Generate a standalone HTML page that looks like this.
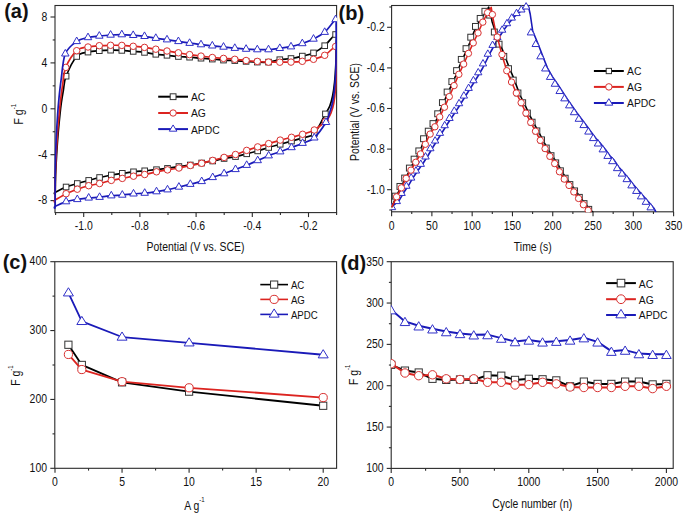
<!DOCTYPE html>
<html><head><meta charset="utf-8"><title>Figure</title>
<style>
html,body{margin:0;padding:0;background:#fff;}
body{width:685px;height:516px;overflow:hidden;}
svg{display:block;font-family:"Liberation Sans", sans-serif;}
text{fill:#111;}
</style></head><body>
<svg width="685" height="516" viewBox="0 0 685 516">
<defs><clipPath id="clipa"><rect x="40" y="0" width="296.9" height="240"/></clipPath><clipPath id="clipb"><rect x="391.1" y="0" width="290" height="212.3"/></clipPath><clipPath id="clipd"><rect x="391.0" y="255" width="290" height="213.9"/></clipPath></defs>
<rect width="685" height="516" fill="#fff"/>
<rect x="55" y="5.5" width="281.6" height="207.1" fill="none" stroke="#2a2a2a" stroke-width="1.1"/>
<line x1="50.5" y1="200.6" x2="55" y2="200.6" stroke="#2a2a2a" stroke-width="1.1"/>
<line x1="52.7" y1="177.65" x2="55" y2="177.65" stroke="#2a2a2a" stroke-width="1.1"/>
<line x1="50.5" y1="154.7" x2="55" y2="154.7" stroke="#2a2a2a" stroke-width="1.1"/>
<line x1="52.7" y1="131.75" x2="55" y2="131.75" stroke="#2a2a2a" stroke-width="1.1"/>
<line x1="50.5" y1="108.8" x2="55" y2="108.8" stroke="#2a2a2a" stroke-width="1.1"/>
<line x1="52.7" y1="85.85" x2="55" y2="85.85" stroke="#2a2a2a" stroke-width="1.1"/>
<line x1="50.5" y1="62.9" x2="55" y2="62.9" stroke="#2a2a2a" stroke-width="1.1"/>
<line x1="52.7" y1="39.95" x2="55" y2="39.95" stroke="#2a2a2a" stroke-width="1.1"/>
<line x1="50.5" y1="17" x2="55" y2="17" stroke="#2a2a2a" stroke-width="1.1"/>
<text transform="translate(47.2 204.4) scale(0.87 1)" font-size="12" text-anchor="end" font-weight="normal">-8</text>
<text transform="translate(47.2 158.5) scale(0.87 1)" font-size="12" text-anchor="end" font-weight="normal">-4</text>
<text transform="translate(47.2 112.6) scale(0.87 1)" font-size="12" text-anchor="end" font-weight="normal">0</text>
<text transform="translate(47.2 66.7) scale(0.87 1)" font-size="12" text-anchor="end" font-weight="normal">4</text>
<text transform="translate(47.2 20.8) scale(0.87 1)" font-size="12" text-anchor="end" font-weight="normal">8</text>
<line x1="55.6" y1="212.6" x2="55.6" y2="214.9" stroke="#2a2a2a" stroke-width="1.1"/>
<line x1="83.7" y1="212.6" x2="83.7" y2="217.1" stroke="#2a2a2a" stroke-width="1.1"/>
<line x1="111.8" y1="212.6" x2="111.8" y2="214.9" stroke="#2a2a2a" stroke-width="1.1"/>
<line x1="139.9" y1="212.6" x2="139.9" y2="217.1" stroke="#2a2a2a" stroke-width="1.1"/>
<line x1="168" y1="212.6" x2="168" y2="214.9" stroke="#2a2a2a" stroke-width="1.1"/>
<line x1="196.1" y1="212.6" x2="196.1" y2="217.1" stroke="#2a2a2a" stroke-width="1.1"/>
<line x1="224.2" y1="212.6" x2="224.2" y2="214.9" stroke="#2a2a2a" stroke-width="1.1"/>
<line x1="252.3" y1="212.6" x2="252.3" y2="217.1" stroke="#2a2a2a" stroke-width="1.1"/>
<line x1="280.4" y1="212.6" x2="280.4" y2="214.9" stroke="#2a2a2a" stroke-width="1.1"/>
<line x1="308.5" y1="212.6" x2="308.5" y2="217.1" stroke="#2a2a2a" stroke-width="1.1"/>
<line x1="336.6" y1="212.6" x2="336.6" y2="214.9" stroke="#2a2a2a" stroke-width="1.1"/>
<text transform="translate(83.7 229.5) scale(0.87 1)" font-size="12" text-anchor="middle" font-weight="normal">-1.0</text>
<text transform="translate(139.9 229.5) scale(0.87 1)" font-size="12" text-anchor="middle" font-weight="normal">-0.8</text>
<text transform="translate(196.1 229.5) scale(0.87 1)" font-size="12" text-anchor="middle" font-weight="normal">-0.6</text>
<text transform="translate(252.3 229.5) scale(0.87 1)" font-size="12" text-anchor="middle" font-weight="normal">-0.4</text>
<text transform="translate(308.5 229.5) scale(0.87 1)" font-size="12" text-anchor="middle" font-weight="normal">-0.2</text>
<text transform="translate(195.5 251.2) scale(0.87 1)" font-size="12" text-anchor="middle" font-weight="normal">Potential (V vs. SCE)</text>
<text transform="translate(23.3 124.4) rotate(-90) scale(0.87 1)" font-size="12">F g<tspan dy="-7.4" font-size="7">-1</tspan></text>
<g clip-path="url(#clipa)">
<path d="M55.2,192.3 C57.02,191.42 62.42,188.47 66.1,187 C69.78,185.53 73.53,184.6 77.3,183.5 C81.07,182.4 84.98,181.4 88.7,180.4 C92.42,179.4 95.83,178.4 99.6,177.5 C103.37,176.6 107.52,175.7 111.3,175 C115.08,174.3 118.6,173.83 122.3,173.3 C126,172.77 129.77,172.22 133.5,171.8 C137.23,171.38 140.87,171.15 144.7,170.8 C148.53,170.45 152.7,170.1 156.5,169.7 C160.3,169.3 163.77,168.93 167.5,168.4 C171.23,167.87 175.1,167.07 178.9,166.5 C182.7,165.93 186.5,165.58 190.3,165 C194.1,164.42 197.97,163.67 201.7,163 C205.43,162.33 208.97,161.75 212.7,161 C216.43,160.25 220.3,159.23 224.1,158.5 C227.9,157.77 231.73,157.38 235.5,156.6 C239.27,155.82 243,154.75 246.7,153.8 C250.4,152.85 254.03,151.95 257.7,150.9 C261.37,149.85 264.95,148.6 268.7,147.5 C272.45,146.4 276.4,145.37 280.2,144.3 C284,143.23 287.77,142.17 291.5,141.1 C295.23,140.03 298.8,139.17 302.6,137.9 C306.4,136.63 310.5,137.5 314.3,133.5 C318.1,129.5 322.82,118.48 325.4,113.9 C327.98,109.32 328.6,108.98 329.8,106 C331,103.02 331.8,100 332.6,96 C333.4,92 334.07,87.17 334.6,82 C335.13,76.83 335.53,71.17 335.8,65 C336.07,58.83 336.23,50.08 336.2,45 C336.17,39.92 337.52,34.38 335.6,34.5 C333.68,34.62 328.38,42.63 324.7,45.7 C321.02,48.77 317.23,51.17 313.5,52.9 C309.77,54.63 306.05,55.17 302.3,56.1 C298.55,57.03 294.75,57.9 291,58.5 C287.25,59.1 283.55,59.1 279.8,59.7 C276.05,60.3 272.25,61.7 268.5,62.1 C264.75,62.5 261.03,62.22 257.3,62.1 C253.57,61.98 249.85,61.65 246.1,61.4 C242.35,61.15 238.57,60.82 234.8,60.6 C231.03,60.38 227.25,60.35 223.5,60.1 C219.75,59.85 216.05,59.42 212.3,59.1 C208.55,58.78 204.78,58.52 201,58.2 C197.22,57.88 193.37,57.48 189.6,57.2 C185.83,56.92 182.17,56.82 178.4,56.5 C174.63,56.18 170.77,55.67 167,55.3 C163.23,54.93 159.55,54.78 155.8,54.3 C152.05,53.82 148.27,52.88 144.5,52.4 C140.73,51.92 136.98,51.73 133.2,51.4 C129.42,51.07 125.57,50.6 121.8,50.4 C118.03,50.2 114.35,50.15 110.6,50.2 C106.85,50.25 103.07,50.38 99.3,50.7 C95.53,51.02 91.77,51.13 88,52.1 C84.23,53.07 80.35,52.48 76.7,56.5 C73.05,60.52 68.32,70.62 66.1,76.2 C63.88,81.78 64.2,85.53 63.4,90 C62.6,94.47 61.88,98.83 61.3,103 C60.72,107.17 60.45,109.67 59.9,115 C59.35,120.33 58.55,128.33 58,135 C57.45,141.67 57,148.33 56.6,155 C56.2,161.67 55.83,168.78 55.6,175 C55.37,181.22 55.27,189.42 55.2,192.3 C55.13,195.18 53.38,193.18 55.2,192.3Z" fill="none" stroke="#000000" stroke-width="1.7" stroke-linejoin="round" stroke-linecap="round"/>
<rect x="63.3" y="184.2" width="5.6" height="5.6" fill="#fff" stroke="#333333" stroke-width="1"/>
<rect x="74.5" y="180.7" width="5.6" height="5.6" fill="#fff" stroke="#333333" stroke-width="1"/>
<rect x="85.9" y="177.6" width="5.6" height="5.6" fill="#fff" stroke="#333333" stroke-width="1"/>
<rect x="96.8" y="174.7" width="5.6" height="5.6" fill="#fff" stroke="#333333" stroke-width="1"/>
<rect x="108.5" y="172.2" width="5.6" height="5.6" fill="#fff" stroke="#333333" stroke-width="1"/>
<rect x="119.5" y="170.5" width="5.6" height="5.6" fill="#fff" stroke="#333333" stroke-width="1"/>
<rect x="130.7" y="169" width="5.6" height="5.6" fill="#fff" stroke="#333333" stroke-width="1"/>
<rect x="141.9" y="168" width="5.6" height="5.6" fill="#fff" stroke="#333333" stroke-width="1"/>
<rect x="153.7" y="166.9" width="5.6" height="5.6" fill="#fff" stroke="#333333" stroke-width="1"/>
<rect x="164.7" y="165.6" width="5.6" height="5.6" fill="#fff" stroke="#333333" stroke-width="1"/>
<rect x="176.1" y="163.7" width="5.6" height="5.6" fill="#fff" stroke="#333333" stroke-width="1"/>
<rect x="187.5" y="162.2" width="5.6" height="5.6" fill="#fff" stroke="#333333" stroke-width="1"/>
<rect x="198.9" y="160.2" width="5.6" height="5.6" fill="#fff" stroke="#333333" stroke-width="1"/>
<rect x="209.9" y="158.2" width="5.6" height="5.6" fill="#fff" stroke="#333333" stroke-width="1"/>
<rect x="221.3" y="155.7" width="5.6" height="5.6" fill="#fff" stroke="#333333" stroke-width="1"/>
<rect x="232.7" y="153.8" width="5.6" height="5.6" fill="#fff" stroke="#333333" stroke-width="1"/>
<rect x="243.9" y="151" width="5.6" height="5.6" fill="#fff" stroke="#333333" stroke-width="1"/>
<rect x="254.9" y="148.1" width="5.6" height="5.6" fill="#fff" stroke="#333333" stroke-width="1"/>
<rect x="265.9" y="144.7" width="5.6" height="5.6" fill="#fff" stroke="#333333" stroke-width="1"/>
<rect x="277.4" y="141.5" width="5.6" height="5.6" fill="#fff" stroke="#333333" stroke-width="1"/>
<rect x="288.7" y="138.3" width="5.6" height="5.6" fill="#fff" stroke="#333333" stroke-width="1"/>
<rect x="299.8" y="135.1" width="5.6" height="5.6" fill="#fff" stroke="#333333" stroke-width="1"/>
<rect x="311.5" y="130.7" width="5.6" height="5.6" fill="#fff" stroke="#333333" stroke-width="1"/>
<rect x="322.6" y="111.1" width="5.6" height="5.6" fill="#fff" stroke="#333333" stroke-width="1"/>
<rect x="63.3" y="73.4" width="5.6" height="5.6" fill="#fff" stroke="#333333" stroke-width="1"/>
<rect x="73.9" y="53.7" width="5.6" height="5.6" fill="#fff" stroke="#333333" stroke-width="1"/>
<rect x="85.2" y="49.3" width="5.6" height="5.6" fill="#fff" stroke="#333333" stroke-width="1"/>
<rect x="96.5" y="47.9" width="5.6" height="5.6" fill="#fff" stroke="#333333" stroke-width="1"/>
<rect x="107.8" y="47.4" width="5.6" height="5.6" fill="#fff" stroke="#333333" stroke-width="1"/>
<rect x="119" y="47.6" width="5.6" height="5.6" fill="#fff" stroke="#333333" stroke-width="1"/>
<rect x="130.4" y="48.6" width="5.6" height="5.6" fill="#fff" stroke="#333333" stroke-width="1"/>
<rect x="141.7" y="49.6" width="5.6" height="5.6" fill="#fff" stroke="#333333" stroke-width="1"/>
<rect x="153" y="51.5" width="5.6" height="5.6" fill="#fff" stroke="#333333" stroke-width="1"/>
<rect x="164.2" y="52.5" width="5.6" height="5.6" fill="#fff" stroke="#333333" stroke-width="1"/>
<rect x="175.6" y="53.7" width="5.6" height="5.6" fill="#fff" stroke="#333333" stroke-width="1"/>
<rect x="186.8" y="54.4" width="5.6" height="5.6" fill="#fff" stroke="#333333" stroke-width="1"/>
<rect x="198.2" y="55.4" width="5.6" height="5.6" fill="#fff" stroke="#333333" stroke-width="1"/>
<rect x="209.5" y="56.3" width="5.6" height="5.6" fill="#fff" stroke="#333333" stroke-width="1"/>
<rect x="220.7" y="57.3" width="5.6" height="5.6" fill="#fff" stroke="#333333" stroke-width="1"/>
<rect x="232" y="57.8" width="5.6" height="5.6" fill="#fff" stroke="#333333" stroke-width="1"/>
<rect x="243.3" y="58.6" width="5.6" height="5.6" fill="#fff" stroke="#333333" stroke-width="1"/>
<rect x="254.5" y="59.3" width="5.6" height="5.6" fill="#fff" stroke="#333333" stroke-width="1"/>
<rect x="265.7" y="59.3" width="5.6" height="5.6" fill="#fff" stroke="#333333" stroke-width="1"/>
<rect x="277" y="56.9" width="5.6" height="5.6" fill="#fff" stroke="#333333" stroke-width="1"/>
<rect x="288.2" y="55.7" width="5.6" height="5.6" fill="#fff" stroke="#333333" stroke-width="1"/>
<rect x="299.5" y="53.3" width="5.6" height="5.6" fill="#fff" stroke="#333333" stroke-width="1"/>
<rect x="310.7" y="50.1" width="5.6" height="5.6" fill="#fff" stroke="#333333" stroke-width="1"/>
<rect x="321.9" y="42.9" width="5.6" height="5.6" fill="#fff" stroke="#333333" stroke-width="1"/>
<rect x="332.8" y="31.7" width="5.6" height="5.6" fill="#fff" stroke="#333333" stroke-width="1"/>
<path d="M55.2,200.1 C57.02,199.03 62.42,195.52 66.1,193.7 C69.78,191.88 73.53,190.53 77.3,189.2 C81.07,187.87 84.98,186.65 88.7,185.7 C92.42,184.75 95.83,184.38 99.6,183.5 C103.37,182.62 107.52,181.25 111.3,180.4 C115.08,179.55 118.6,179.1 122.3,178.4 C126,177.7 129.77,176.85 133.5,176.2 C137.23,175.55 140.87,175.23 144.7,174.5 C148.53,173.77 152.7,172.57 156.5,171.8 C160.3,171.03 163.77,170.53 167.5,169.9 C171.23,169.27 175.1,168.73 178.9,168 C182.7,167.27 186.5,166.28 190.3,165.5 C194.1,164.72 197.97,164.15 201.7,163.3 C205.43,162.45 208.97,161.38 212.7,160.4 C216.43,159.42 220.3,158.38 224.1,157.4 C227.9,156.42 231.73,155.67 235.5,154.5 C239.27,153.33 243,151.67 246.7,150.4 C250.4,149.13 254.03,148.03 257.7,146.9 C261.37,145.77 264.95,144.73 268.7,143.6 C272.45,142.47 276.4,141.15 280.2,140.1 C284,139.05 287.77,138.27 291.5,137.3 C295.23,136.33 298.8,135.52 302.6,134.3 C306.4,133.08 310.48,132.13 314.3,130 C318.12,127.87 323.3,123.25 325.5,121.5 C327.7,119.75 326.58,120.92 327.5,119.5 C328.42,118.08 329.95,115.75 331,113 C332.05,110.25 333.07,106.83 333.8,103 C334.53,99.17 335,95.17 335.4,90 C335.8,84.83 336.05,77.83 336.2,72 C336.35,66.17 336.4,59.25 336.3,55 C336.2,50.75 337.53,46.45 335.6,46.5 C333.67,46.55 328.38,53.17 324.7,55.3 C321.02,57.43 317.23,58.3 313.5,59.3 C309.77,60.3 306.05,60.83 302.3,61.3 C298.55,61.77 294.75,61.95 291,62.1 C287.25,62.25 283.55,62.2 279.8,62.2 C276.05,62.2 272.25,62.23 268.5,62.1 C264.75,61.97 261.03,61.67 257.3,61.4 C253.57,61.13 249.85,60.85 246.1,60.5 C242.35,60.15 238.57,59.65 234.8,59.3 C231.03,58.95 227.25,58.7 223.5,58.4 C219.75,58.1 216.05,57.88 212.3,57.5 C208.55,57.12 204.78,56.58 201,56.1 C197.22,55.62 193.37,55.15 189.6,54.6 C185.83,54.05 182.17,53.4 178.4,52.8 C174.63,52.2 170.77,51.6 167,51 C163.23,50.4 159.55,49.8 155.8,49.2 C152.05,48.6 148.27,47.88 144.5,47.4 C140.73,46.92 136.98,46.63 133.2,46.3 C129.42,45.97 125.57,45.57 121.8,45.4 C118.03,45.23 114.35,45.25 110.6,45.3 C106.85,45.35 103.07,45.42 99.3,45.7 C95.53,45.98 91.77,46.17 88,47 C84.23,47.83 80.4,47.3 76.7,50.7 C73,54.1 68.15,61.68 65.8,67.4 C63.45,73.12 63.47,79.57 62.6,85 C61.73,90.43 61.18,95 60.6,100 C60.02,105 59.63,109.17 59.1,115 C58.57,120.83 57.88,128.33 57.4,135 C56.92,141.67 56.53,148.33 56.2,155 C55.87,161.67 55.57,167.48 55.4,175 C55.23,182.52 55.23,195.92 55.2,200.1 C55.17,204.28 53.38,201.17 55.2,200.1Z" fill="none" stroke="#dc2420" stroke-width="1.7" stroke-linejoin="round" stroke-linecap="round"/>
<circle cx="66.1" cy="193.7" r="3.25" fill="#fff" stroke="#d83030" stroke-width="1"/>
<circle cx="77.3" cy="189.2" r="3.25" fill="#fff" stroke="#d83030" stroke-width="1"/>
<circle cx="88.7" cy="185.7" r="3.25" fill="#fff" stroke="#d83030" stroke-width="1"/>
<circle cx="99.6" cy="183.5" r="3.25" fill="#fff" stroke="#d83030" stroke-width="1"/>
<circle cx="111.3" cy="180.4" r="3.25" fill="#fff" stroke="#d83030" stroke-width="1"/>
<circle cx="122.3" cy="178.4" r="3.25" fill="#fff" stroke="#d83030" stroke-width="1"/>
<circle cx="133.5" cy="176.2" r="3.25" fill="#fff" stroke="#d83030" stroke-width="1"/>
<circle cx="144.7" cy="174.5" r="3.25" fill="#fff" stroke="#d83030" stroke-width="1"/>
<circle cx="156.5" cy="171.8" r="3.25" fill="#fff" stroke="#d83030" stroke-width="1"/>
<circle cx="167.5" cy="169.9" r="3.25" fill="#fff" stroke="#d83030" stroke-width="1"/>
<circle cx="178.9" cy="168" r="3.25" fill="#fff" stroke="#d83030" stroke-width="1"/>
<circle cx="190.3" cy="165.5" r="3.25" fill="#fff" stroke="#d83030" stroke-width="1"/>
<circle cx="201.7" cy="163.3" r="3.25" fill="#fff" stroke="#d83030" stroke-width="1"/>
<circle cx="212.7" cy="160.4" r="3.25" fill="#fff" stroke="#d83030" stroke-width="1"/>
<circle cx="224.1" cy="157.4" r="3.25" fill="#fff" stroke="#d83030" stroke-width="1"/>
<circle cx="235.5" cy="154.5" r="3.25" fill="#fff" stroke="#d83030" stroke-width="1"/>
<circle cx="246.7" cy="150.4" r="3.25" fill="#fff" stroke="#d83030" stroke-width="1"/>
<circle cx="257.7" cy="146.9" r="3.25" fill="#fff" stroke="#d83030" stroke-width="1"/>
<circle cx="268.7" cy="143.6" r="3.25" fill="#fff" stroke="#d83030" stroke-width="1"/>
<circle cx="280.2" cy="140.1" r="3.25" fill="#fff" stroke="#d83030" stroke-width="1"/>
<circle cx="291.5" cy="137.3" r="3.25" fill="#fff" stroke="#d83030" stroke-width="1"/>
<circle cx="302.6" cy="134.3" r="3.25" fill="#fff" stroke="#d83030" stroke-width="1"/>
<circle cx="314.3" cy="130" r="3.25" fill="#fff" stroke="#d83030" stroke-width="1"/>
<circle cx="325.5" cy="121.5" r="3.25" fill="#fff" stroke="#d83030" stroke-width="1"/>
<circle cx="65.8" cy="67.4" r="3.25" fill="#fff" stroke="#d83030" stroke-width="1"/>
<circle cx="76.7" cy="50.7" r="3.25" fill="#fff" stroke="#d83030" stroke-width="1"/>
<circle cx="88" cy="47" r="3.25" fill="#fff" stroke="#d83030" stroke-width="1"/>
<circle cx="99.3" cy="45.7" r="3.25" fill="#fff" stroke="#d83030" stroke-width="1"/>
<circle cx="110.6" cy="45.3" r="3.25" fill="#fff" stroke="#d83030" stroke-width="1"/>
<circle cx="121.8" cy="45.4" r="3.25" fill="#fff" stroke="#d83030" stroke-width="1"/>
<circle cx="133.2" cy="46.3" r="3.25" fill="#fff" stroke="#d83030" stroke-width="1"/>
<circle cx="144.5" cy="47.4" r="3.25" fill="#fff" stroke="#d83030" stroke-width="1"/>
<circle cx="155.8" cy="49.2" r="3.25" fill="#fff" stroke="#d83030" stroke-width="1"/>
<circle cx="167" cy="51" r="3.25" fill="#fff" stroke="#d83030" stroke-width="1"/>
<circle cx="178.4" cy="52.8" r="3.25" fill="#fff" stroke="#d83030" stroke-width="1"/>
<circle cx="189.6" cy="54.6" r="3.25" fill="#fff" stroke="#d83030" stroke-width="1"/>
<circle cx="201" cy="56.1" r="3.25" fill="#fff" stroke="#d83030" stroke-width="1"/>
<circle cx="212.3" cy="57.5" r="3.25" fill="#fff" stroke="#d83030" stroke-width="1"/>
<circle cx="223.5" cy="58.4" r="3.25" fill="#fff" stroke="#d83030" stroke-width="1"/>
<circle cx="234.8" cy="59.3" r="3.25" fill="#fff" stroke="#d83030" stroke-width="1"/>
<circle cx="246.1" cy="60.5" r="3.25" fill="#fff" stroke="#d83030" stroke-width="1"/>
<circle cx="257.3" cy="61.4" r="3.25" fill="#fff" stroke="#d83030" stroke-width="1"/>
<circle cx="268.5" cy="62.1" r="3.25" fill="#fff" stroke="#d83030" stroke-width="1"/>
<circle cx="279.8" cy="62.2" r="3.25" fill="#fff" stroke="#d83030" stroke-width="1"/>
<circle cx="291" cy="62.1" r="3.25" fill="#fff" stroke="#d83030" stroke-width="1"/>
<circle cx="302.3" cy="61.3" r="3.25" fill="#fff" stroke="#d83030" stroke-width="1"/>
<circle cx="313.5" cy="59.3" r="3.25" fill="#fff" stroke="#d83030" stroke-width="1"/>
<circle cx="324.7" cy="55.3" r="3.25" fill="#fff" stroke="#d83030" stroke-width="1"/>
<circle cx="335.6" cy="46.5" r="3.25" fill="#fff" stroke="#d83030" stroke-width="1"/>
<path d="M55.2,206.4 C57.02,205.77 62.42,202.77 66.1,201.6 C69.78,200.43 73.53,200.02 77.3,199.4 C81.07,198.78 84.98,198.27 88.7,197.9 C92.42,197.53 95.83,197.57 99.6,197.2 C103.37,196.83 107.52,196.07 111.3,195.7 C115.08,195.33 118.6,195.32 122.3,195 C126,194.68 129.77,194.12 133.5,193.8 C137.23,193.48 140.87,193.47 144.7,193.1 C148.53,192.73 152.7,192.17 156.5,191.6 C160.3,191.03 163.77,190.47 167.5,189.7 C171.23,188.93 175.1,187.92 178.9,187 C182.7,186.08 186.5,185.13 190.3,184.2 C194.1,183.27 197.97,182.53 201.7,181.4 C205.43,180.27 208.97,178.7 212.7,177.4 C216.43,176.1 220.3,174.93 224.1,173.6 C227.9,172.27 231.73,170.8 235.5,169.4 C239.27,168 243,166.68 246.7,165.2 C250.4,163.72 254.03,162.08 257.7,160.5 C261.37,158.92 264.95,157.17 268.7,155.7 C272.45,154.23 276.4,153.07 280.2,151.7 C284,150.33 287.77,148.92 291.5,147.5 C295.23,146.08 298.8,144.82 302.6,143.2 C306.4,141.58 310.4,141.28 314.3,137.8 C318.2,134.32 323.47,126.43 326,122.3 C328.53,118.17 328.47,116.05 329.5,113 C330.53,109.95 331.42,107.5 332.2,104 C332.98,100.5 333.63,96.83 334.2,92 C334.77,87.17 335.27,82 335.6,75 C335.93,68 336.12,58.33 336.2,50 C336.28,41.67 336.2,30.08 336.1,25 C336,19.92 337.5,18.3 335.6,19.5 C333.7,20.7 328.38,28.95 324.7,32.2 C321.02,35.45 317.23,37.12 313.5,39 C309.77,40.88 306.05,42.22 302.3,43.5 C298.55,44.78 294.75,45.9 291,46.7 C287.25,47.5 283.55,47.82 279.8,48.3 C276.05,48.78 272.25,49.38 268.5,49.6 C264.75,49.82 261.03,49.68 257.3,49.6 C253.57,49.52 249.85,49.33 246.1,49.1 C242.35,48.87 238.57,48.55 234.8,48.2 C231.03,47.85 227.25,47.4 223.5,47 C219.75,46.6 216.05,46.2 212.3,45.8 C208.55,45.4 204.78,45.03 201,44.6 C197.22,44.17 193.37,43.73 189.6,43.2 C185.83,42.67 182.17,41.98 178.4,41.4 C174.63,40.82 170.77,40.23 167,39.7 C163.23,39.17 159.55,38.77 155.8,38.2 C152.05,37.63 148.27,36.78 144.5,36.3 C140.73,35.82 136.98,35.58 133.2,35.3 C129.42,35.02 125.57,34.65 121.8,34.6 C118.03,34.55 114.35,34.77 110.6,35 C106.85,35.23 103.07,35.58 99.3,36 C95.53,36.42 91.77,36.6 88,37.5 C84.23,38.4 80.48,38.68 76.7,41.4 C72.92,44.12 67.92,47.25 65.3,53.8 C62.68,60.35 62.08,73 61,80.7 C59.92,88.4 59.37,94.28 58.8,100 C58.23,105.72 58,109.17 57.6,115 C57.2,120.83 56.73,128.33 56.4,135 C56.07,141.67 55.8,148.33 55.6,155 C55.4,161.67 55.27,166.6 55.2,175 C55.13,183.4 55.2,200.17 55.2,205.4 C55.2,210.63 53.38,207.03 55.2,206.4Z" fill="none" stroke="#1a1ab8" stroke-width="1.7" stroke-linejoin="round" stroke-linecap="round"/>
<polygon points="66.1,197.2 69.85,203.8 62.35,203.8" fill="#fff" stroke="#3030c8" stroke-width="1" stroke-linejoin="miter"/>
<polygon points="77.3,195 81.05,201.6 73.55,201.6" fill="#fff" stroke="#3030c8" stroke-width="1" stroke-linejoin="miter"/>
<polygon points="88.7,193.5 92.45,200.1 84.95,200.1" fill="#fff" stroke="#3030c8" stroke-width="1" stroke-linejoin="miter"/>
<polygon points="99.6,192.8 103.35,199.4 95.85,199.4" fill="#fff" stroke="#3030c8" stroke-width="1" stroke-linejoin="miter"/>
<polygon points="111.3,191.3 115.05,197.9 107.55,197.9" fill="#fff" stroke="#3030c8" stroke-width="1" stroke-linejoin="miter"/>
<polygon points="122.3,190.6 126.05,197.2 118.55,197.2" fill="#fff" stroke="#3030c8" stroke-width="1" stroke-linejoin="miter"/>
<polygon points="133.5,189.4 137.25,196 129.75,196" fill="#fff" stroke="#3030c8" stroke-width="1" stroke-linejoin="miter"/>
<polygon points="144.7,188.7 148.45,195.3 140.95,195.3" fill="#fff" stroke="#3030c8" stroke-width="1" stroke-linejoin="miter"/>
<polygon points="156.5,187.2 160.25,193.8 152.75,193.8" fill="#fff" stroke="#3030c8" stroke-width="1" stroke-linejoin="miter"/>
<polygon points="167.5,185.3 171.25,191.9 163.75,191.9" fill="#fff" stroke="#3030c8" stroke-width="1" stroke-linejoin="miter"/>
<polygon points="178.9,182.6 182.65,189.2 175.15,189.2" fill="#fff" stroke="#3030c8" stroke-width="1" stroke-linejoin="miter"/>
<polygon points="190.3,179.8 194.05,186.4 186.55,186.4" fill="#fff" stroke="#3030c8" stroke-width="1" stroke-linejoin="miter"/>
<polygon points="201.7,177 205.45,183.6 197.95,183.6" fill="#fff" stroke="#3030c8" stroke-width="1" stroke-linejoin="miter"/>
<polygon points="212.7,173 216.45,179.6 208.95,179.6" fill="#fff" stroke="#3030c8" stroke-width="1" stroke-linejoin="miter"/>
<polygon points="224.1,169.2 227.85,175.8 220.35,175.8" fill="#fff" stroke="#3030c8" stroke-width="1" stroke-linejoin="miter"/>
<polygon points="235.5,165 239.25,171.6 231.75,171.6" fill="#fff" stroke="#3030c8" stroke-width="1" stroke-linejoin="miter"/>
<polygon points="246.7,160.8 250.45,167.4 242.95,167.4" fill="#fff" stroke="#3030c8" stroke-width="1" stroke-linejoin="miter"/>
<polygon points="257.7,156.1 261.45,162.7 253.95,162.7" fill="#fff" stroke="#3030c8" stroke-width="1" stroke-linejoin="miter"/>
<polygon points="268.7,151.3 272.45,157.9 264.95,157.9" fill="#fff" stroke="#3030c8" stroke-width="1" stroke-linejoin="miter"/>
<polygon points="280.2,147.3 283.95,153.9 276.45,153.9" fill="#fff" stroke="#3030c8" stroke-width="1" stroke-linejoin="miter"/>
<polygon points="291.5,143.1 295.25,149.7 287.75,149.7" fill="#fff" stroke="#3030c8" stroke-width="1" stroke-linejoin="miter"/>
<polygon points="302.6,138.8 306.35,145.4 298.85,145.4" fill="#fff" stroke="#3030c8" stroke-width="1" stroke-linejoin="miter"/>
<polygon points="314.3,133.4 318.05,140 310.55,140" fill="#fff" stroke="#3030c8" stroke-width="1" stroke-linejoin="miter"/>
<polygon points="326,117.9 329.75,124.5 322.25,124.5" fill="#fff" stroke="#3030c8" stroke-width="1" stroke-linejoin="miter"/>
<polygon points="65.3,49.4 69.05,56 61.55,56" fill="#fff" stroke="#3030c8" stroke-width="1" stroke-linejoin="miter"/>
<polygon points="76.7,37 80.45,43.6 72.95,43.6" fill="#fff" stroke="#3030c8" stroke-width="1" stroke-linejoin="miter"/>
<polygon points="88,33.1 91.75,39.7 84.25,39.7" fill="#fff" stroke="#3030c8" stroke-width="1" stroke-linejoin="miter"/>
<polygon points="99.3,31.6 103.05,38.2 95.55,38.2" fill="#fff" stroke="#3030c8" stroke-width="1" stroke-linejoin="miter"/>
<polygon points="110.6,30.6 114.35,37.2 106.85,37.2" fill="#fff" stroke="#3030c8" stroke-width="1" stroke-linejoin="miter"/>
<polygon points="121.8,30.2 125.55,36.8 118.05,36.8" fill="#fff" stroke="#3030c8" stroke-width="1" stroke-linejoin="miter"/>
<polygon points="133.2,30.9 136.95,37.5 129.45,37.5" fill="#fff" stroke="#3030c8" stroke-width="1" stroke-linejoin="miter"/>
<polygon points="144.5,31.9 148.25,38.5 140.75,38.5" fill="#fff" stroke="#3030c8" stroke-width="1" stroke-linejoin="miter"/>
<polygon points="155.8,33.8 159.55,40.4 152.05,40.4" fill="#fff" stroke="#3030c8" stroke-width="1" stroke-linejoin="miter"/>
<polygon points="167,35.3 170.75,41.9 163.25,41.9" fill="#fff" stroke="#3030c8" stroke-width="1" stroke-linejoin="miter"/>
<polygon points="178.4,37 182.15,43.6 174.65,43.6" fill="#fff" stroke="#3030c8" stroke-width="1" stroke-linejoin="miter"/>
<polygon points="189.6,38.8 193.35,45.4 185.85,45.4" fill="#fff" stroke="#3030c8" stroke-width="1" stroke-linejoin="miter"/>
<polygon points="201,40.2 204.75,46.8 197.25,46.8" fill="#fff" stroke="#3030c8" stroke-width="1" stroke-linejoin="miter"/>
<polygon points="212.3,41.4 216.05,48 208.55,48" fill="#fff" stroke="#3030c8" stroke-width="1" stroke-linejoin="miter"/>
<polygon points="223.5,42.6 227.25,49.2 219.75,49.2" fill="#fff" stroke="#3030c8" stroke-width="1" stroke-linejoin="miter"/>
<polygon points="234.8,43.8 238.55,50.4 231.05,50.4" fill="#fff" stroke="#3030c8" stroke-width="1" stroke-linejoin="miter"/>
<polygon points="246.1,44.7 249.85,51.3 242.35,51.3" fill="#fff" stroke="#3030c8" stroke-width="1" stroke-linejoin="miter"/>
<polygon points="257.3,45.2 261.05,51.8 253.55,51.8" fill="#fff" stroke="#3030c8" stroke-width="1" stroke-linejoin="miter"/>
<polygon points="268.5,45.2 272.25,51.8 264.75,51.8" fill="#fff" stroke="#3030c8" stroke-width="1" stroke-linejoin="miter"/>
<polygon points="279.8,43.9 283.55,50.5 276.05,50.5" fill="#fff" stroke="#3030c8" stroke-width="1" stroke-linejoin="miter"/>
<polygon points="291,42.3 294.75,48.9 287.25,48.9" fill="#fff" stroke="#3030c8" stroke-width="1" stroke-linejoin="miter"/>
<polygon points="302.3,39.1 306.05,45.7 298.55,45.7" fill="#fff" stroke="#3030c8" stroke-width="1" stroke-linejoin="miter"/>
<polygon points="313.5,34.6 317.25,41.2 309.75,41.2" fill="#fff" stroke="#3030c8" stroke-width="1" stroke-linejoin="miter"/>
<polygon points="324.7,27.8 328.45,34.4 320.95,34.4" fill="#fff" stroke="#3030c8" stroke-width="1" stroke-linejoin="miter"/>
<polygon points="335.6,15.1 339.35,21.7 331.85,21.7" fill="#fff" stroke="#3030c8" stroke-width="1" stroke-linejoin="miter"/>
</g>
<polyline points="158.2,96.7 188,96.7" fill="none" stroke="#000000" stroke-width="2.0" stroke-linejoin="round" stroke-linecap="butt"/>
<rect x="170.2" y="93.8" width="5.8" height="5.8" fill="#fff" stroke="#333333" stroke-width="1"/>
<text transform="translate(190.9 101.1) scale(0.9 1)" font-size="11.5" text-anchor="start" font-weight="normal">AC</text>
<polyline points="158.2,113 188,113" fill="none" stroke="#dc2420" stroke-width="2.0" stroke-linejoin="round" stroke-linecap="butt"/>
<circle cx="173.1" cy="113" r="3.2" fill="#fff" stroke="#d83030" stroke-width="1"/>
<text transform="translate(190.9 117.4) scale(0.9 1)" font-size="11.5" text-anchor="start" font-weight="normal">AG</text>
<polyline points="158.2,129.1 188,129.1" fill="none" stroke="#1a1ab8" stroke-width="2.0" stroke-linejoin="round" stroke-linecap="butt"/>
<polygon points="173.1,124.95 176.9,131.18 169.3,131.18" fill="#fff" stroke="#3030c8" stroke-width="1" stroke-linejoin="miter"/>
<text transform="translate(190.9 133.5) scale(0.9 1)" font-size="11.5" text-anchor="start" font-weight="normal">APDC</text>
<text transform="translate(4.2 17.8)" font-size="20" text-anchor="start" font-weight="bold">(a)</text>
<rect x="391.6" y="5.5" width="281.7" height="206.3" fill="none" stroke="#2a2a2a" stroke-width="1.1"/>
<line x1="389.3" y1="7" x2="391.6" y2="7" stroke="#2a2a2a" stroke-width="1.1"/>
<line x1="387.1" y1="27.3" x2="391.6" y2="27.3" stroke="#2a2a2a" stroke-width="1.1"/>
<line x1="389.3" y1="47.6" x2="391.6" y2="47.6" stroke="#2a2a2a" stroke-width="1.1"/>
<line x1="387.1" y1="67.9" x2="391.6" y2="67.9" stroke="#2a2a2a" stroke-width="1.1"/>
<line x1="389.3" y1="88.2" x2="391.6" y2="88.2" stroke="#2a2a2a" stroke-width="1.1"/>
<line x1="387.1" y1="108.5" x2="391.6" y2="108.5" stroke="#2a2a2a" stroke-width="1.1"/>
<line x1="389.3" y1="128.8" x2="391.6" y2="128.8" stroke="#2a2a2a" stroke-width="1.1"/>
<line x1="387.1" y1="149.1" x2="391.6" y2="149.1" stroke="#2a2a2a" stroke-width="1.1"/>
<line x1="389.3" y1="169.4" x2="391.6" y2="169.4" stroke="#2a2a2a" stroke-width="1.1"/>
<line x1="387.1" y1="189.7" x2="391.6" y2="189.7" stroke="#2a2a2a" stroke-width="1.1"/>
<line x1="389.3" y1="210" x2="391.6" y2="210" stroke="#2a2a2a" stroke-width="1.1"/>
<text transform="translate(384.8 31.1) scale(0.87 1)" font-size="12" text-anchor="end" font-weight="normal">-0.2</text>
<text transform="translate(384.8 71.7) scale(0.87 1)" font-size="12" text-anchor="end" font-weight="normal">-0.4</text>
<text transform="translate(384.8 112.3) scale(0.87 1)" font-size="12" text-anchor="end" font-weight="normal">-0.6</text>
<text transform="translate(384.8 152.9) scale(0.87 1)" font-size="12" text-anchor="end" font-weight="normal">-0.8</text>
<text transform="translate(384.8 193.5) scale(0.87 1)" font-size="12" text-anchor="end" font-weight="normal">-1.0</text>
<line x1="391.6" y1="211.8" x2="391.6" y2="216.3" stroke="#2a2a2a" stroke-width="1.1"/>
<line x1="411.74" y1="211.8" x2="411.74" y2="214.1" stroke="#2a2a2a" stroke-width="1.1"/>
<line x1="431.88" y1="211.8" x2="431.88" y2="216.3" stroke="#2a2a2a" stroke-width="1.1"/>
<line x1="452.03" y1="211.8" x2="452.03" y2="214.1" stroke="#2a2a2a" stroke-width="1.1"/>
<line x1="472.17" y1="211.8" x2="472.17" y2="216.3" stroke="#2a2a2a" stroke-width="1.1"/>
<line x1="492.31" y1="211.8" x2="492.31" y2="214.1" stroke="#2a2a2a" stroke-width="1.1"/>
<line x1="512.46" y1="211.8" x2="512.46" y2="216.3" stroke="#2a2a2a" stroke-width="1.1"/>
<line x1="532.6" y1="211.8" x2="532.6" y2="214.1" stroke="#2a2a2a" stroke-width="1.1"/>
<line x1="552.74" y1="211.8" x2="552.74" y2="216.3" stroke="#2a2a2a" stroke-width="1.1"/>
<line x1="572.88" y1="211.8" x2="572.88" y2="214.1" stroke="#2a2a2a" stroke-width="1.1"/>
<line x1="593.02" y1="211.8" x2="593.02" y2="216.3" stroke="#2a2a2a" stroke-width="1.1"/>
<line x1="613.17" y1="211.8" x2="613.17" y2="214.1" stroke="#2a2a2a" stroke-width="1.1"/>
<line x1="633.31" y1="211.8" x2="633.31" y2="216.3" stroke="#2a2a2a" stroke-width="1.1"/>
<line x1="653.45" y1="211.8" x2="653.45" y2="214.1" stroke="#2a2a2a" stroke-width="1.1"/>
<line x1="673.6" y1="211.8" x2="673.6" y2="216.3" stroke="#2a2a2a" stroke-width="1.1"/>
<text transform="translate(391.6 229.5) scale(0.87 1)" font-size="12" text-anchor="middle" font-weight="normal">0</text>
<text transform="translate(431.88 229.5) scale(0.87 1)" font-size="12" text-anchor="middle" font-weight="normal">50</text>
<text transform="translate(472.17 229.5) scale(0.87 1)" font-size="12" text-anchor="middle" font-weight="normal">100</text>
<text transform="translate(512.46 229.5) scale(0.87 1)" font-size="12" text-anchor="middle" font-weight="normal">150</text>
<text transform="translate(552.74 229.5) scale(0.87 1)" font-size="12" text-anchor="middle" font-weight="normal">200</text>
<text transform="translate(593.02 229.5) scale(0.87 1)" font-size="12" text-anchor="middle" font-weight="normal">250</text>
<text transform="translate(633.31 229.5) scale(0.87 1)" font-size="12" text-anchor="middle" font-weight="normal">300</text>
<text transform="translate(673.6 229.5) scale(0.87 1)" font-size="12" text-anchor="middle" font-weight="normal">350</text>
<text transform="translate(532.8 251.2) scale(0.87 1)" font-size="12" text-anchor="middle" font-weight="normal">Time (s)</text>
<text transform="translate(358.9 112) rotate(-90) scale(0.87 1)" font-size="12" text-anchor="middle" font-weight="normal">Potential (V vs. SCE)</text>
<g clip-path="url(#clipb)">
<polyline points="392,206.7 399.2,200.4 403.6,192.8 408.6,185.3 413,177.7 418.1,170.2 423.1,163.2 428.1,155.5 432.7,147.5 437.7,139.5 442.7,131.5 447.7,123.5 452.7,116 457.7,108.5 462.7,100.5 467.7,92.5 472.7,84.5 477.7,76.5 482.7,68 486.7,60 490.9,51.5 495.6,43 500.2,35.5 504.9,28.5 509.6,22.2 514.2,16.9 518.9,12.5 523.6,9 528.3,6 530.2,14 532.7,31 538.4,44.8 543.3,57.5 547.5,68.1 552.4,76.7 557.6,84.1 562.5,91.6 567.4,99.1 572.1,105.9 577,112.9 581.7,119.3 586.6,125.7 591.3,132.1 596,138.5 600.9,143.9 605.4,149.5 609.9,155.7 614.3,160.4 618.7,167 623.8,172.8 628.9,178.7 633.3,184.5 638.4,190.4 643.5,196.2 648.6,202 653.7,207.9 655.7,211.5" fill="none" stroke="#1a1ab8" stroke-width="1.6" stroke-linejoin="round" stroke-linecap="round"/>
<polygon points="392,203.23 395.7,209.63 388.3,209.63" fill="#fff" stroke="#3030c8" stroke-width="1" stroke-linejoin="miter"/>
<polygon points="396.79,197.2 400.49,203.6 393.09,203.6" fill="#fff" stroke="#3030c8" stroke-width="1" stroke-linejoin="miter"/>
<polygon points="401.58,189.06 405.28,195.46 397.88,195.46" fill="#fff" stroke="#3030c8" stroke-width="1" stroke-linejoin="miter"/>
<polygon points="406.37,181.88 410.07,188.28 402.67,188.28" fill="#fff" stroke="#3030c8" stroke-width="1" stroke-linejoin="miter"/>
<polygon points="411.16,173.7 414.86,180.1 407.46,180.1" fill="#fff" stroke="#3030c8" stroke-width="1" stroke-linejoin="miter"/>
<polygon points="415.95,166.66 419.65,173.06 412.25,173.06" fill="#fff" stroke="#3030c8" stroke-width="1" stroke-linejoin="miter"/>
<polygon points="420.74,159.96 424.44,166.36 417.04,166.36" fill="#fff" stroke="#3030c8" stroke-width="1" stroke-linejoin="miter"/>
<polygon points="425.53,152.6 429.23,159 421.83,159" fill="#fff" stroke="#3030c8" stroke-width="1" stroke-linejoin="miter"/>
<polygon points="430.32,144.35 434.02,150.75 426.62,150.75" fill="#fff" stroke="#3030c8" stroke-width="1" stroke-linejoin="miter"/>
<polygon points="435.11,136.66 438.81,143.06 431.41,143.06" fill="#fff" stroke="#3030c8" stroke-width="1" stroke-linejoin="miter"/>
<polygon points="439.9,128.99 443.6,135.39 436.2,135.39" fill="#fff" stroke="#3030c8" stroke-width="1" stroke-linejoin="miter"/>
<polygon points="444.69,121.33 448.39,127.73 440.99,127.73" fill="#fff" stroke="#3030c8" stroke-width="1" stroke-linejoin="miter"/>
<polygon points="449.48,114.06 453.18,120.46 445.78,120.46" fill="#fff" stroke="#3030c8" stroke-width="1" stroke-linejoin="miter"/>
<polygon points="454.27,106.88 457.97,113.28 450.57,113.28" fill="#fff" stroke="#3030c8" stroke-width="1" stroke-linejoin="miter"/>
<polygon points="459.06,99.34 462.76,105.74 455.36,105.74" fill="#fff" stroke="#3030c8" stroke-width="1" stroke-linejoin="miter"/>
<polygon points="463.85,91.67 467.55,98.07 460.15,98.07" fill="#fff" stroke="#3030c8" stroke-width="1" stroke-linejoin="miter"/>
<polygon points="468.64,84.01 472.34,90.41 464.94,90.41" fill="#fff" stroke="#3030c8" stroke-width="1" stroke-linejoin="miter"/>
<polygon points="473.43,76.35 477.13,82.75 469.73,82.75" fill="#fff" stroke="#3030c8" stroke-width="1" stroke-linejoin="miter"/>
<polygon points="478.22,68.41 481.92,74.81 474.52,74.81" fill="#fff" stroke="#3030c8" stroke-width="1" stroke-linejoin="miter"/>
<polygon points="483.01,59.51 486.71,65.91 479.31,65.91" fill="#fff" stroke="#3030c8" stroke-width="1" stroke-linejoin="miter"/>
<polygon points="487.8,49.85 491.5,56.25 484.1,56.25" fill="#fff" stroke="#3030c8" stroke-width="1" stroke-linejoin="miter"/>
<polygon points="492.59,41 496.29,47.4 488.89,47.4" fill="#fff" stroke="#3030c8" stroke-width="1" stroke-linejoin="miter"/>
<polygon points="497.38,33.04 501.08,39.44 493.68,39.44" fill="#fff" stroke="#3030c8" stroke-width="1" stroke-linejoin="miter"/>
<polygon points="502.17,25.82 505.87,32.22 498.47,32.22" fill="#fff" stroke="#3030c8" stroke-width="1" stroke-linejoin="miter"/>
<polygon points="506.96,19.32 510.66,25.72 503.26,25.72" fill="#fff" stroke="#3030c8" stroke-width="1" stroke-linejoin="miter"/>
<polygon points="511.75,13.72 515.45,20.12 508.05,20.12" fill="#fff" stroke="#3030c8" stroke-width="1" stroke-linejoin="miter"/>
<polygon points="516.54,9.18 520.24,15.58 512.84,15.58" fill="#fff" stroke="#3030c8" stroke-width="1" stroke-linejoin="miter"/>
<polygon points="521.33,5.59 525.03,11.99 517.63,11.99" fill="#fff" stroke="#3030c8" stroke-width="1" stroke-linejoin="miter"/>
<polygon points="526.12,2.62 529.82,9.02 522.42,9.02" fill="#fff" stroke="#3030c8" stroke-width="1" stroke-linejoin="miter"/>
<polygon points="530.91,28.53 534.61,34.93 527.21,34.93" fill="#fff" stroke="#3030c8" stroke-width="1" stroke-linejoin="miter"/>
<polygon points="535.7,40.12 539.4,46.52 532,46.52" fill="#fff" stroke="#3030c8" stroke-width="1" stroke-linejoin="miter"/>
<polygon points="540.49,52.45 544.19,58.85 536.79,58.85" fill="#fff" stroke="#3030c8" stroke-width="1" stroke-linejoin="miter"/>
<polygon points="545.28,64.58 548.98,70.98 541.58,70.98" fill="#fff" stroke="#3030c8" stroke-width="1" stroke-linejoin="miter"/>
<polygon points="550.07,73.01 553.77,79.41 546.37,79.41" fill="#fff" stroke="#3030c8" stroke-width="1" stroke-linejoin="miter"/>
<polygon points="554.86,79.86 558.56,86.26 551.16,86.26" fill="#fff" stroke="#3030c8" stroke-width="1" stroke-linejoin="miter"/>
<polygon points="559.65,87.14 563.35,93.54 555.95,93.54" fill="#fff" stroke="#3030c8" stroke-width="1" stroke-linejoin="miter"/>
<polygon points="564.44,94.47 568.14,100.87 560.74,100.87" fill="#fff" stroke="#3030c8" stroke-width="1" stroke-linejoin="miter"/>
<polygon points="569.23,101.46 572.93,107.86 565.53,107.86" fill="#fff" stroke="#3030c8" stroke-width="1" stroke-linejoin="miter"/>
<polygon points="574.02,108.32 577.72,114.72 570.32,114.72" fill="#fff" stroke="#3030c8" stroke-width="1" stroke-linejoin="miter"/>
<polygon points="578.81,114.89 582.51,121.29 575.11,121.29" fill="#fff" stroke="#3030c8" stroke-width="1" stroke-linejoin="miter"/>
<polygon points="583.6,121.19 587.3,127.59 579.9,127.59" fill="#fff" stroke="#3030c8" stroke-width="1" stroke-linejoin="miter"/>
<polygon points="588.39,127.67 592.09,134.07 584.69,134.07" fill="#fff" stroke="#3030c8" stroke-width="1" stroke-linejoin="miter"/>
<polygon points="593.18,134.19 596.88,140.59 589.48,140.59" fill="#fff" stroke="#3030c8" stroke-width="1" stroke-linejoin="miter"/>
<polygon points="597.97,139.63 601.67,146.03 594.27,146.03" fill="#fff" stroke="#3030c8" stroke-width="1" stroke-linejoin="miter"/>
<polygon points="602.76,145.49 606.46,151.89 599.06,151.89" fill="#fff" stroke="#3030c8" stroke-width="1" stroke-linejoin="miter"/>
<polygon points="607.55,152.03 611.25,158.43 603.85,158.43" fill="#fff" stroke="#3030c8" stroke-width="1" stroke-linejoin="miter"/>
<polygon points="612.34,157.29 616.04,163.69 608.64,163.69" fill="#fff" stroke="#3030c8" stroke-width="1" stroke-linejoin="miter"/>
<polygon points="617.13,164.25 620.83,170.65 613.43,170.65" fill="#fff" stroke="#3030c8" stroke-width="1" stroke-linejoin="miter"/>
<polygon points="621.92,169.7 625.62,176.1 618.22,176.1" fill="#fff" stroke="#3030c8" stroke-width="1" stroke-linejoin="miter"/>
<polygon points="626.71,175.25 630.41,181.65 623.01,181.65" fill="#fff" stroke="#3030c8" stroke-width="1" stroke-linejoin="miter"/>
<polygon points="631.5,181.5 635.2,187.9 627.8,187.9" fill="#fff" stroke="#3030c8" stroke-width="1" stroke-linejoin="miter"/>
<polygon points="636.29,187.04 639.99,193.44 632.59,193.44" fill="#fff" stroke="#3030c8" stroke-width="1" stroke-linejoin="miter"/>
<polygon points="641.08,192.48 644.78,198.88 637.38,198.88" fill="#fff" stroke="#3030c8" stroke-width="1" stroke-linejoin="miter"/>
<polygon points="645.87,197.93 649.57,204.33 642.17,204.33" fill="#fff" stroke="#3030c8" stroke-width="1" stroke-linejoin="miter"/>
<polygon points="650.66,203.46 654.36,209.86 646.96,209.86" fill="#fff" stroke="#3030c8" stroke-width="1" stroke-linejoin="miter"/>
<polyline points="392,206.7 396.2,196.6 401.1,186.5 406.4,177.1 410.8,167.6 415.8,158.2 420.2,150.6 424.7,138.8 430.5,129.5 436.3,120.2 441,108.6 445.6,98.1 450.3,87.7 455.6,76 460.3,64.4 465.4,52.8 470,42.3 474.1,31.5 478.8,22.2 484,14.6 488.7,7.2 490.2,12 492.2,22 496.2,34 500.2,44 504.2,54.3 509.2,67.5 513.8,78.4 519.7,94.5 525,105 529.1,114.2 534.2,123.9 539.5,133.6 543.9,142.1 548.7,150.1 553.5,157.8 558.4,165.1 563.2,173.6 568.1,180.8 572.9,186.9 577.8,193.7 582.6,200.2 586.7,205.5 590.4,209.9 592.7,212" fill="none" stroke="#000000" stroke-width="1.6" stroke-linejoin="round" stroke-linecap="round"/>
<rect x="392.27" y="193.2" width="5.9" height="5.9" fill="#fff" stroke="#333333" stroke-width="1"/>
<rect x="396.99" y="183.48" width="5.9" height="5.9" fill="#fff" stroke="#333333" stroke-width="1"/>
<rect x="401.71" y="175.11" width="5.9" height="5.9" fill="#fff" stroke="#333333" stroke-width="1"/>
<rect x="406.43" y="165.13" width="5.9" height="5.9" fill="#fff" stroke="#333333" stroke-width="1"/>
<rect x="411.15" y="156.19" width="5.9" height="5.9" fill="#fff" stroke="#333333" stroke-width="1"/>
<rect x="415.87" y="147.96" width="5.9" height="5.9" fill="#fff" stroke="#333333" stroke-width="1"/>
<rect x="420.59" y="135.79" width="5.9" height="5.9" fill="#fff" stroke="#333333" stroke-width="1"/>
<rect x="425.31" y="128.22" width="5.9" height="5.9" fill="#fff" stroke="#333333" stroke-width="1"/>
<rect x="430.03" y="120.65" width="5.9" height="5.9" fill="#fff" stroke="#333333" stroke-width="1"/>
<rect x="434.75" y="110.83" width="5.9" height="5.9" fill="#fff" stroke="#333333" stroke-width="1"/>
<rect x="439.47" y="99.67" width="5.9" height="5.9" fill="#fff" stroke="#333333" stroke-width="1"/>
<rect x="444.19" y="89.09" width="5.9" height="5.9" fill="#fff" stroke="#333333" stroke-width="1"/>
<rect x="448.91" y="78.66" width="5.9" height="5.9" fill="#fff" stroke="#333333" stroke-width="1"/>
<rect x="453.63" y="67.67" width="5.9" height="5.9" fill="#fff" stroke="#333333" stroke-width="1"/>
<rect x="458.35" y="56.45" width="5.9" height="5.9" fill="#fff" stroke="#333333" stroke-width="1"/>
<rect x="463.07" y="45.7" width="5.9" height="5.9" fill="#fff" stroke="#333333" stroke-width="1"/>
<rect x="467.79" y="34.24" width="5.9" height="5.9" fill="#fff" stroke="#333333" stroke-width="1"/>
<rect x="472.51" y="23.48" width="5.9" height="5.9" fill="#fff" stroke="#333333" stroke-width="1"/>
<rect x="477.23" y="15.48" width="5.9" height="5.9" fill="#fff" stroke="#333333" stroke-width="1"/>
<rect x="481.95" y="8.34" width="5.9" height="5.9" fill="#fff" stroke="#333333" stroke-width="1"/>
<rect x="486.67" y="12.15" width="5.9" height="5.9" fill="#fff" stroke="#333333" stroke-width="1"/>
<rect x="491.39" y="29.07" width="5.9" height="5.9" fill="#fff" stroke="#333333" stroke-width="1"/>
<rect x="496.11" y="41.2" width="5.9" height="5.9" fill="#fff" stroke="#333333" stroke-width="1"/>
<rect x="500.83" y="53.41" width="5.9" height="5.9" fill="#fff" stroke="#333333" stroke-width="1"/>
<rect x="505.55" y="65.73" width="5.9" height="5.9" fill="#fff" stroke="#333333" stroke-width="1"/>
<rect x="510.27" y="77.14" width="5.9" height="5.9" fill="#fff" stroke="#333333" stroke-width="1"/>
<rect x="514.99" y="90.02" width="5.9" height="5.9" fill="#fff" stroke="#333333" stroke-width="1"/>
<rect x="519.71" y="99.79" width="5.9" height="5.9" fill="#fff" stroke="#333333" stroke-width="1"/>
<rect x="524.43" y="110.08" width="5.9" height="5.9" fill="#fff" stroke="#333333" stroke-width="1"/>
<rect x="529.15" y="119.24" width="5.9" height="5.9" fill="#fff" stroke="#333333" stroke-width="1"/>
<rect x="533.87" y="127.94" width="5.9" height="5.9" fill="#fff" stroke="#333333" stroke-width="1"/>
<rect x="538.59" y="136.91" width="5.9" height="5.9" fill="#fff" stroke="#333333" stroke-width="1"/>
<rect x="543.31" y="145.08" width="5.9" height="5.9" fill="#fff" stroke="#333333" stroke-width="1"/>
<rect x="548.03" y="152.73" width="5.9" height="5.9" fill="#fff" stroke="#333333" stroke-width="1"/>
<rect x="552.75" y="159.92" width="5.9" height="5.9" fill="#fff" stroke="#333333" stroke-width="1"/>
<rect x="557.47" y="167.85" width="5.9" height="5.9" fill="#fff" stroke="#333333" stroke-width="1"/>
<rect x="562.19" y="175.26" width="5.9" height="5.9" fill="#fff" stroke="#333333" stroke-width="1"/>
<rect x="566.91" y="181.61" width="5.9" height="5.9" fill="#fff" stroke="#333333" stroke-width="1"/>
<rect x="571.63" y="187.95" width="5.9" height="5.9" fill="#fff" stroke="#333333" stroke-width="1"/>
<rect x="576.35" y="194.41" width="5.9" height="5.9" fill="#fff" stroke="#333333" stroke-width="1"/>
<rect x="581.07" y="200.64" width="5.9" height="5.9" fill="#fff" stroke="#333333" stroke-width="1"/>
<rect x="585.79" y="206.4" width="5.9" height="5.9" fill="#fff" stroke="#333333" stroke-width="1"/>
<polyline points="392,206.7 396.5,197 401.4,187.8 405.8,179 410.2,171.4 415.2,163.2 420.3,154.4 425,145 429.3,135.3 434.7,127.2 439.8,116.7 444.4,107.4 449.1,97 453.7,86.5 458.4,75.3 463.5,64.4 468.4,53.5 473.5,42.3 478,33 483.1,21.5 488.1,11.6 491.2,7.4 493.1,18.8 495.9,32.6 498.2,40.6 502.7,57.2 507,71.5 512.1,83.3 517,94.5 522.3,105 526.4,114.2 531.5,123.9 536.8,133.6 541.2,142.1 546,150.1 550.8,157.8 555.7,165.1 560.5,173.6 565.4,180.8 570.2,186.9 575.1,193.7 579.9,200.2 584,205.5 587.7,209.9 590,212" fill="none" stroke="#dc2420" stroke-width="1.6" stroke-linejoin="round" stroke-linecap="round"/>
<circle cx="396.59" cy="196.83" r="3.2" fill="#fff" stroke="#d83030" stroke-width="1"/>
<circle cx="401.38" cy="187.84" r="3.2" fill="#fff" stroke="#d83030" stroke-width="1"/>
<circle cx="406.17" cy="178.36" r="3.2" fill="#fff" stroke="#d83030" stroke-width="1"/>
<circle cx="410.96" cy="170.15" r="3.2" fill="#fff" stroke="#d83030" stroke-width="1"/>
<circle cx="415.75" cy="162.25" r="3.2" fill="#fff" stroke="#d83030" stroke-width="1"/>
<circle cx="420.54" cy="153.92" r="3.2" fill="#fff" stroke="#d83030" stroke-width="1"/>
<circle cx="425.33" cy="144.26" r="3.2" fill="#fff" stroke="#d83030" stroke-width="1"/>
<circle cx="430.12" cy="134.07" r="3.2" fill="#fff" stroke="#d83030" stroke-width="1"/>
<circle cx="434.91" cy="126.77" r="3.2" fill="#fff" stroke="#d83030" stroke-width="1"/>
<circle cx="439.7" cy="116.91" r="3.2" fill="#fff" stroke="#d83030" stroke-width="1"/>
<circle cx="444.49" cy="107.2" r="3.2" fill="#fff" stroke="#d83030" stroke-width="1"/>
<circle cx="449.28" cy="96.59" r="3.2" fill="#fff" stroke="#d83030" stroke-width="1"/>
<circle cx="454.07" cy="85.62" r="3.2" fill="#fff" stroke="#d83030" stroke-width="1"/>
<circle cx="458.86" cy="74.32" r="3.2" fill="#fff" stroke="#d83030" stroke-width="1"/>
<circle cx="463.65" cy="64.07" r="3.2" fill="#fff" stroke="#d83030" stroke-width="1"/>
<circle cx="468.44" cy="53.41" r="3.2" fill="#fff" stroke="#d83030" stroke-width="1"/>
<circle cx="473.23" cy="42.89" r="3.2" fill="#fff" stroke="#d83030" stroke-width="1"/>
<circle cx="478.02" cy="32.95" r="3.2" fill="#fff" stroke="#d83030" stroke-width="1"/>
<circle cx="482.81" cy="22.15" r="3.2" fill="#fff" stroke="#d83030" stroke-width="1"/>
<circle cx="487.6" cy="12.59" r="3.2" fill="#fff" stroke="#d83030" stroke-width="1"/>
<circle cx="492.39" cy="14.54" r="3.2" fill="#fff" stroke="#d83030" stroke-width="1"/>
<circle cx="497.18" cy="37.05" r="3.2" fill="#fff" stroke="#d83030" stroke-width="1"/>
<circle cx="501.97" cy="54.51" r="3.2" fill="#fff" stroke="#d83030" stroke-width="1"/>
<circle cx="506.76" cy="70.7" r="3.2" fill="#fff" stroke="#d83030" stroke-width="1"/>
<circle cx="511.55" cy="82.03" r="3.2" fill="#fff" stroke="#d83030" stroke-width="1"/>
<circle cx="516.34" cy="92.99" r="3.2" fill="#fff" stroke="#d83030" stroke-width="1"/>
<circle cx="521.13" cy="102.68" r="3.2" fill="#fff" stroke="#d83030" stroke-width="1"/>
<circle cx="525.92" cy="113.12" r="3.2" fill="#fff" stroke="#d83030" stroke-width="1"/>
<circle cx="530.71" cy="122.4" r="3.2" fill="#fff" stroke="#d83030" stroke-width="1"/>
<circle cx="535.5" cy="131.22" r="3.2" fill="#fff" stroke="#d83030" stroke-width="1"/>
<circle cx="540.29" cy="140.34" r="3.2" fill="#fff" stroke="#d83030" stroke-width="1"/>
<circle cx="545.08" cy="148.57" r="3.2" fill="#fff" stroke="#d83030" stroke-width="1"/>
<circle cx="549.87" cy="156.31" r="3.2" fill="#fff" stroke="#d83030" stroke-width="1"/>
<circle cx="554.66" cy="163.55" r="3.2" fill="#fff" stroke="#d83030" stroke-width="1"/>
<circle cx="559.45" cy="171.74" r="3.2" fill="#fff" stroke="#d83030" stroke-width="1"/>
<circle cx="564.24" cy="179.1" r="3.2" fill="#fff" stroke="#d83030" stroke-width="1"/>
<circle cx="569.03" cy="185.41" r="3.2" fill="#fff" stroke="#d83030" stroke-width="1"/>
<circle cx="573.82" cy="191.92" r="3.2" fill="#fff" stroke="#d83030" stroke-width="1"/>
<circle cx="578.61" cy="198.45" r="3.2" fill="#fff" stroke="#d83030" stroke-width="1"/>
<circle cx="583.4" cy="204.72" r="3.2" fill="#fff" stroke="#d83030" stroke-width="1"/>
<circle cx="588.19" cy="210.35" r="3.2" fill="#fff" stroke="#d83030" stroke-width="1"/>
</g>
<polyline points="593.9,71 623.8,71" fill="none" stroke="#000000" stroke-width="2.0" stroke-linejoin="round" stroke-linecap="butt"/>
<rect x="606.2" y="68.35" width="5.3" height="5.3" fill="#fff" stroke="#333333" stroke-width="1"/>
<text transform="translate(627 75.4) scale(0.9 1)" font-size="11.5" text-anchor="start" font-weight="normal">AC</text>
<polyline points="593.9,86.9 623.8,86.9" fill="none" stroke="#dc2420" stroke-width="2.0" stroke-linejoin="round" stroke-linecap="butt"/>
<circle cx="608.85" cy="86.9" r="3.25" fill="#fff" stroke="#d83030" stroke-width="1"/>
<text transform="translate(627 91.3) scale(0.9 1)" font-size="11.5" text-anchor="start" font-weight="normal">AG</text>
<polyline points="593.9,103 623.8,103" fill="none" stroke="#1a1ab8" stroke-width="2.0" stroke-linejoin="round" stroke-linecap="butt"/>
<polygon points="608.85,98.68 612.8,105.16 604.9,105.16" fill="#fff" stroke="#3030c8" stroke-width="1" stroke-linejoin="miter"/>
<text transform="translate(627 107.4) scale(0.9 1)" font-size="11.5" text-anchor="start" font-weight="normal">APDC</text>
<text transform="translate(338.6 19.8)" font-size="20" text-anchor="start" font-weight="bold">(b)</text>
<rect x="54.8" y="261.7" width="281.8" height="206.6" fill="none" stroke="#2a2a2a" stroke-width="1.1"/>
<line x1="50.3" y1="468.3" x2="54.8" y2="468.3" stroke="#2a2a2a" stroke-width="1.1"/>
<line x1="52.5" y1="433.87" x2="54.8" y2="433.87" stroke="#2a2a2a" stroke-width="1.1"/>
<line x1="50.3" y1="399.43" x2="54.8" y2="399.43" stroke="#2a2a2a" stroke-width="1.1"/>
<line x1="52.5" y1="365" x2="54.8" y2="365" stroke="#2a2a2a" stroke-width="1.1"/>
<line x1="50.3" y1="330.56" x2="54.8" y2="330.56" stroke="#2a2a2a" stroke-width="1.1"/>
<line x1="52.5" y1="296.12" x2="54.8" y2="296.12" stroke="#2a2a2a" stroke-width="1.1"/>
<line x1="50.3" y1="261.69" x2="54.8" y2="261.69" stroke="#2a2a2a" stroke-width="1.1"/>
<text transform="translate(47 472.1) scale(0.87 1)" font-size="12" text-anchor="end" font-weight="normal">100</text>
<text transform="translate(47 403.23) scale(0.87 1)" font-size="12" text-anchor="end" font-weight="normal">200</text>
<text transform="translate(47 334.36) scale(0.87 1)" font-size="12" text-anchor="end" font-weight="normal">300</text>
<text transform="translate(47 265.49) scale(0.87 1)" font-size="12" text-anchor="end" font-weight="normal">400</text>
<line x1="55" y1="468.3" x2="55" y2="472.8" stroke="#2a2a2a" stroke-width="1.1"/>
<line x1="88.53" y1="468.3" x2="88.53" y2="470.6" stroke="#2a2a2a" stroke-width="1.1"/>
<line x1="122.05" y1="468.3" x2="122.05" y2="472.8" stroke="#2a2a2a" stroke-width="1.1"/>
<line x1="155.57" y1="468.3" x2="155.57" y2="470.6" stroke="#2a2a2a" stroke-width="1.1"/>
<line x1="189.1" y1="468.3" x2="189.1" y2="472.8" stroke="#2a2a2a" stroke-width="1.1"/>
<line x1="222.62" y1="468.3" x2="222.62" y2="470.6" stroke="#2a2a2a" stroke-width="1.1"/>
<line x1="256.15" y1="468.3" x2="256.15" y2="472.8" stroke="#2a2a2a" stroke-width="1.1"/>
<line x1="289.68" y1="468.3" x2="289.68" y2="470.6" stroke="#2a2a2a" stroke-width="1.1"/>
<line x1="323.2" y1="468.3" x2="323.2" y2="472.8" stroke="#2a2a2a" stroke-width="1.1"/>
<text transform="translate(55 485.6) scale(0.87 1)" font-size="12" text-anchor="middle" font-weight="normal">0</text>
<text transform="translate(122.05 485.6) scale(0.87 1)" font-size="12" text-anchor="middle" font-weight="normal">5</text>
<text transform="translate(189.1 485.6) scale(0.87 1)" font-size="12" text-anchor="middle" font-weight="normal">10</text>
<text transform="translate(256.15 485.6) scale(0.87 1)" font-size="12" text-anchor="middle" font-weight="normal">15</text>
<text transform="translate(323.2 485.6) scale(0.87 1)" font-size="12" text-anchor="middle" font-weight="normal">20</text>
<text transform="translate(184.2 509.7) scale(0.87 1)" font-size="12">A g<tspan dy="-7.4" font-size="7">-1</tspan></text>
<text transform="translate(20.4 385.8) rotate(-90) scale(0.87 1)" font-size="12">F g<tspan dy="-7.4" font-size="7">-1</tspan></text>
<polyline points="68.41,344.75 81.82,364.93 122.05,382.35 189.1,391.65 323.2,405.77" fill="none" stroke="#000000" stroke-width="1.8" stroke-linejoin="round" stroke-linecap="round"/>
<rect x="64.81" y="341.15" width="7.2" height="7.2" fill="#fff" stroke="#333333" stroke-width="1"/>
<rect x="78.22" y="361.33" width="7.2" height="7.2" fill="#fff" stroke="#333333" stroke-width="1"/>
<rect x="118.45" y="378.75" width="7.2" height="7.2" fill="#fff" stroke="#333333" stroke-width="1"/>
<rect x="185.5" y="388.05" width="7.2" height="7.2" fill="#fff" stroke="#333333" stroke-width="1"/>
<rect x="319.6" y="402.17" width="7.2" height="7.2" fill="#fff" stroke="#333333" stroke-width="1"/>
<polyline points="68.41,354.46 81.82,369.54 122.05,381.66 189.1,387.79 323.2,397.57" fill="none" stroke="#dc2420" stroke-width="1.8" stroke-linejoin="round" stroke-linecap="round"/>
<circle cx="68.41" cy="354.46" r="4.1" fill="#fff" stroke="#d83030" stroke-width="1"/>
<circle cx="81.82" cy="369.54" r="4.1" fill="#fff" stroke="#d83030" stroke-width="1"/>
<circle cx="122.05" cy="381.66" r="4.1" fill="#fff" stroke="#d83030" stroke-width="1"/>
<circle cx="189.1" cy="387.79" r="4.1" fill="#fff" stroke="#d83030" stroke-width="1"/>
<circle cx="323.2" cy="397.57" r="4.1" fill="#fff" stroke="#d83030" stroke-width="1"/>
<polyline points="68.41,292.82 81.82,321.4 122.05,337.03 189.1,342.82 323.2,354.73" fill="none" stroke="#1a1ab8" stroke-width="1.8" stroke-linejoin="round" stroke-linecap="round"/>
<polygon points="68.41,287.75 73.41,295.95 63.41,295.95" fill="#fff" stroke="#3030c8" stroke-width="1" stroke-linejoin="miter"/>
<polygon points="81.82,316.33 86.82,324.53 76.82,324.53" fill="#fff" stroke="#3030c8" stroke-width="1" stroke-linejoin="miter"/>
<polygon points="122.05,331.97 127.05,340.17 117.05,340.17" fill="#fff" stroke="#3030c8" stroke-width="1" stroke-linejoin="miter"/>
<polygon points="189.1,337.75 194.1,345.95 184.1,345.95" fill="#fff" stroke="#3030c8" stroke-width="1" stroke-linejoin="miter"/>
<polygon points="323.2,349.67 328.2,357.87 318.2,357.87" fill="#fff" stroke="#3030c8" stroke-width="1" stroke-linejoin="miter"/>
<polyline points="260.3,284.6 288,284.6" fill="none" stroke="#000000" stroke-width="1.6" stroke-linejoin="round" stroke-linecap="butt"/>
<rect x="270.55" y="281" width="7.2" height="7.2" fill="#fff" stroke="#333333" stroke-width="1"/>
<text transform="translate(290.9 289) scale(0.84 1)" font-size="11.5" text-anchor="start" font-weight="normal">AC</text>
<polyline points="260.3,299.4 288,299.4" fill="none" stroke="#dc2420" stroke-width="1.6" stroke-linejoin="round" stroke-linecap="butt"/>
<circle cx="274.15" cy="299.4" r="4.1" fill="#fff" stroke="#d83030" stroke-width="1"/>
<text transform="translate(290.9 303.8) scale(0.84 1)" font-size="11.5" text-anchor="start" font-weight="normal">AG</text>
<polyline points="260.3,314.4 288,314.4" fill="none" stroke="#1a1ab8" stroke-width="1.6" stroke-linejoin="round" stroke-linecap="butt"/>
<polygon points="274.15,308.93 279.15,317.13 269.15,317.13" fill="#fff" stroke="#3030c8" stroke-width="1" stroke-linejoin="miter"/>
<text transform="translate(290.9 318.8) scale(0.84 1)" font-size="11.5" text-anchor="start" font-weight="normal">APDC</text>
<text transform="translate(2.7 268.8)" font-size="20" text-anchor="start" font-weight="bold">(c)</text>
<rect x="391.2" y="261.7" width="282" height="206.7" fill="none" stroke="#2a2a2a" stroke-width="1.1"/>
<line x1="386.7" y1="468.4" x2="391.2" y2="468.4" stroke="#2a2a2a" stroke-width="1.1"/>
<line x1="388.9" y1="447.73" x2="391.2" y2="447.73" stroke="#2a2a2a" stroke-width="1.1"/>
<line x1="386.7" y1="427.06" x2="391.2" y2="427.06" stroke="#2a2a2a" stroke-width="1.1"/>
<line x1="388.9" y1="406.39" x2="391.2" y2="406.39" stroke="#2a2a2a" stroke-width="1.1"/>
<line x1="386.7" y1="385.72" x2="391.2" y2="385.72" stroke="#2a2a2a" stroke-width="1.1"/>
<line x1="388.9" y1="365.05" x2="391.2" y2="365.05" stroke="#2a2a2a" stroke-width="1.1"/>
<line x1="386.7" y1="344.38" x2="391.2" y2="344.38" stroke="#2a2a2a" stroke-width="1.1"/>
<line x1="388.9" y1="323.71" x2="391.2" y2="323.71" stroke="#2a2a2a" stroke-width="1.1"/>
<line x1="386.7" y1="303.04" x2="391.2" y2="303.04" stroke="#2a2a2a" stroke-width="1.1"/>
<line x1="388.9" y1="282.37" x2="391.2" y2="282.37" stroke="#2a2a2a" stroke-width="1.1"/>
<line x1="386.7" y1="261.7" x2="391.2" y2="261.7" stroke="#2a2a2a" stroke-width="1.1"/>
<text transform="translate(383.6 472.2) scale(0.87 1)" font-size="12" text-anchor="end" font-weight="normal">100</text>
<text transform="translate(383.6 430.86) scale(0.87 1)" font-size="12" text-anchor="end" font-weight="normal">150</text>
<text transform="translate(383.6 389.52) scale(0.87 1)" font-size="12" text-anchor="end" font-weight="normal">200</text>
<text transform="translate(383.6 348.18) scale(0.87 1)" font-size="12" text-anchor="end" font-weight="normal">250</text>
<text transform="translate(383.6 306.84) scale(0.87 1)" font-size="12" text-anchor="end" font-weight="normal">300</text>
<text transform="translate(383.6 265.5) scale(0.87 1)" font-size="12" text-anchor="end" font-weight="normal">350</text>
<line x1="391.2" y1="468.4" x2="391.2" y2="472.9" stroke="#2a2a2a" stroke-width="1.1"/>
<line x1="425.6" y1="468.4" x2="425.6" y2="470.7" stroke="#2a2a2a" stroke-width="1.1"/>
<line x1="460" y1="468.4" x2="460" y2="472.9" stroke="#2a2a2a" stroke-width="1.1"/>
<line x1="494.4" y1="468.4" x2="494.4" y2="470.7" stroke="#2a2a2a" stroke-width="1.1"/>
<line x1="528.8" y1="468.4" x2="528.8" y2="472.9" stroke="#2a2a2a" stroke-width="1.1"/>
<line x1="563.2" y1="468.4" x2="563.2" y2="470.7" stroke="#2a2a2a" stroke-width="1.1"/>
<line x1="597.6" y1="468.4" x2="597.6" y2="472.9" stroke="#2a2a2a" stroke-width="1.1"/>
<line x1="632" y1="468.4" x2="632" y2="470.7" stroke="#2a2a2a" stroke-width="1.1"/>
<line x1="666.4" y1="468.4" x2="666.4" y2="472.9" stroke="#2a2a2a" stroke-width="1.1"/>
<text transform="translate(391.2 485.6) scale(0.87 1)" font-size="12" text-anchor="middle" font-weight="normal">0</text>
<text transform="translate(460 485.6) scale(0.87 1)" font-size="12" text-anchor="middle" font-weight="normal">500</text>
<text transform="translate(528.8 485.6) scale(0.87 1)" font-size="12" text-anchor="middle" font-weight="normal">1000</text>
<text transform="translate(597.6 485.6) scale(0.87 1)" font-size="12" text-anchor="middle" font-weight="normal">1500</text>
<text transform="translate(666.4 485.6) scale(0.87 1)" font-size="12" text-anchor="middle" font-weight="normal">2000</text>
<text transform="translate(532.2 507.6) scale(0.87 1)" font-size="12" text-anchor="middle" font-weight="normal">Cycle number (n)</text>
<text transform="translate(357.6 385) rotate(-90) scale(0.87 1)" font-size="12">F g<tspan dy="-7.4" font-size="7">-1</tspan></text>
<g clip-path="url(#clipd)">
<polyline points="391.2,364.8 404.96,370.6 418.72,372.5 432.48,378.8 446.24,379.9 460,379.5 473.76,379.9 487.52,375.3 501.28,375.7 515.04,379.9 528.8,378.8 542.56,379.3 556.32,380.4 570.08,386.3 583.84,381.6 597.6,383.9 611.36,383.9 625.12,381.6 638.88,381.6 652.64,384.4 666.4,383.9" fill="none" stroke="#000000" stroke-width="2.0" stroke-linejoin="round" stroke-linecap="round"/>
<rect x="387.6" y="361.2" width="7.2" height="7.2" fill="#fff" stroke="#333333" stroke-width="1"/>
<rect x="401.36" y="367" width="7.2" height="7.2" fill="#fff" stroke="#333333" stroke-width="1"/>
<rect x="415.12" y="368.9" width="7.2" height="7.2" fill="#fff" stroke="#333333" stroke-width="1"/>
<rect x="428.88" y="375.2" width="7.2" height="7.2" fill="#fff" stroke="#333333" stroke-width="1"/>
<rect x="442.64" y="376.3" width="7.2" height="7.2" fill="#fff" stroke="#333333" stroke-width="1"/>
<rect x="456.4" y="375.9" width="7.2" height="7.2" fill="#fff" stroke="#333333" stroke-width="1"/>
<rect x="470.16" y="376.3" width="7.2" height="7.2" fill="#fff" stroke="#333333" stroke-width="1"/>
<rect x="483.92" y="371.7" width="7.2" height="7.2" fill="#fff" stroke="#333333" stroke-width="1"/>
<rect x="497.68" y="372.1" width="7.2" height="7.2" fill="#fff" stroke="#333333" stroke-width="1"/>
<rect x="511.44" y="376.3" width="7.2" height="7.2" fill="#fff" stroke="#333333" stroke-width="1"/>
<rect x="525.2" y="375.2" width="7.2" height="7.2" fill="#fff" stroke="#333333" stroke-width="1"/>
<rect x="538.96" y="375.7" width="7.2" height="7.2" fill="#fff" stroke="#333333" stroke-width="1"/>
<rect x="552.72" y="376.8" width="7.2" height="7.2" fill="#fff" stroke="#333333" stroke-width="1"/>
<rect x="566.48" y="382.7" width="7.2" height="7.2" fill="#fff" stroke="#333333" stroke-width="1"/>
<rect x="580.24" y="378" width="7.2" height="7.2" fill="#fff" stroke="#333333" stroke-width="1"/>
<rect x="594" y="380.3" width="7.2" height="7.2" fill="#fff" stroke="#333333" stroke-width="1"/>
<rect x="607.76" y="380.3" width="7.2" height="7.2" fill="#fff" stroke="#333333" stroke-width="1"/>
<rect x="621.52" y="378" width="7.2" height="7.2" fill="#fff" stroke="#333333" stroke-width="1"/>
<rect x="635.28" y="378" width="7.2" height="7.2" fill="#fff" stroke="#333333" stroke-width="1"/>
<rect x="649.04" y="380.8" width="7.2" height="7.2" fill="#fff" stroke="#333333" stroke-width="1"/>
<rect x="662.8" y="380.3" width="7.2" height="7.2" fill="#fff" stroke="#333333" stroke-width="1"/>
<polyline points="391.2,363.7 404.96,373 418.72,375.7 432.48,374.8 446.24,378.8 460,379.5 473.76,378.8 487.52,382.3 501.28,382.3 515.04,385 528.8,384.6 542.56,382.3 556.32,383.9 570.08,387 583.84,387.5 597.6,387.5 611.36,387.5 625.12,386.3 638.88,386.3 652.64,388.6 666.4,386.3" fill="none" stroke="#dc2420" stroke-width="2.0" stroke-linejoin="round" stroke-linecap="round"/>
<circle cx="391.2" cy="363.7" r="4.2" fill="#fff" stroke="#d83030" stroke-width="1"/>
<circle cx="404.96" cy="373" r="4.2" fill="#fff" stroke="#d83030" stroke-width="1"/>
<circle cx="418.72" cy="375.7" r="4.2" fill="#fff" stroke="#d83030" stroke-width="1"/>
<circle cx="432.48" cy="374.8" r="4.2" fill="#fff" stroke="#d83030" stroke-width="1"/>
<circle cx="446.24" cy="378.8" r="4.2" fill="#fff" stroke="#d83030" stroke-width="1"/>
<circle cx="460" cy="379.5" r="4.2" fill="#fff" stroke="#d83030" stroke-width="1"/>
<circle cx="473.76" cy="378.8" r="4.2" fill="#fff" stroke="#d83030" stroke-width="1"/>
<circle cx="487.52" cy="382.3" r="4.2" fill="#fff" stroke="#d83030" stroke-width="1"/>
<circle cx="501.28" cy="382.3" r="4.2" fill="#fff" stroke="#d83030" stroke-width="1"/>
<circle cx="515.04" cy="385" r="4.2" fill="#fff" stroke="#d83030" stroke-width="1"/>
<circle cx="528.8" cy="384.6" r="4.2" fill="#fff" stroke="#d83030" stroke-width="1"/>
<circle cx="542.56" cy="382.3" r="4.2" fill="#fff" stroke="#d83030" stroke-width="1"/>
<circle cx="556.32" cy="383.9" r="4.2" fill="#fff" stroke="#d83030" stroke-width="1"/>
<circle cx="570.08" cy="387" r="4.2" fill="#fff" stroke="#d83030" stroke-width="1"/>
<circle cx="583.84" cy="387.5" r="4.2" fill="#fff" stroke="#d83030" stroke-width="1"/>
<circle cx="597.6" cy="387.5" r="4.2" fill="#fff" stroke="#d83030" stroke-width="1"/>
<circle cx="611.36" cy="387.5" r="4.2" fill="#fff" stroke="#d83030" stroke-width="1"/>
<circle cx="625.12" cy="386.3" r="4.2" fill="#fff" stroke="#d83030" stroke-width="1"/>
<circle cx="638.88" cy="386.3" r="4.2" fill="#fff" stroke="#d83030" stroke-width="1"/>
<circle cx="652.64" cy="388.6" r="4.2" fill="#fff" stroke="#d83030" stroke-width="1"/>
<circle cx="666.4" cy="386.3" r="4.2" fill="#fff" stroke="#d83030" stroke-width="1"/>
<polyline points="391.2,309.7 404.96,321.4 418.72,325.8 432.48,328.8 446.24,331.6 460,333.5 473.76,334.8 487.52,334.6 501.28,338.1 515.04,341.6 528.8,340 542.56,341.9 556.32,341.2 570.08,340 583.84,337.7 597.6,341.9 611.36,351.2 625.12,350.1 638.88,353.6 652.64,354.3 666.4,354.3" fill="none" stroke="#1a1ab8" stroke-width="2.0" stroke-linejoin="round" stroke-linecap="round"/>
<polygon points="391.2,305.57 396,313.87 386.4,313.87" fill="#fff" stroke="#3030c8" stroke-width="1" stroke-linejoin="miter"/>
<polygon points="404.96,317.27 409.76,325.57 400.16,325.57" fill="#fff" stroke="#3030c8" stroke-width="1" stroke-linejoin="miter"/>
<polygon points="418.72,321.67 423.52,329.97 413.92,329.97" fill="#fff" stroke="#3030c8" stroke-width="1" stroke-linejoin="miter"/>
<polygon points="432.48,324.67 437.28,332.97 427.68,332.97" fill="#fff" stroke="#3030c8" stroke-width="1" stroke-linejoin="miter"/>
<polygon points="446.24,327.47 451.04,335.77 441.44,335.77" fill="#fff" stroke="#3030c8" stroke-width="1" stroke-linejoin="miter"/>
<polygon points="460,329.37 464.8,337.67 455.2,337.67" fill="#fff" stroke="#3030c8" stroke-width="1" stroke-linejoin="miter"/>
<polygon points="473.76,330.67 478.56,338.97 468.96,338.97" fill="#fff" stroke="#3030c8" stroke-width="1" stroke-linejoin="miter"/>
<polygon points="487.52,330.47 492.32,338.77 482.72,338.77" fill="#fff" stroke="#3030c8" stroke-width="1" stroke-linejoin="miter"/>
<polygon points="501.28,333.97 506.08,342.27 496.48,342.27" fill="#fff" stroke="#3030c8" stroke-width="1" stroke-linejoin="miter"/>
<polygon points="515.04,337.47 519.84,345.77 510.24,345.77" fill="#fff" stroke="#3030c8" stroke-width="1" stroke-linejoin="miter"/>
<polygon points="528.8,335.87 533.6,344.17 524,344.17" fill="#fff" stroke="#3030c8" stroke-width="1" stroke-linejoin="miter"/>
<polygon points="542.56,337.77 547.36,346.07 537.76,346.07" fill="#fff" stroke="#3030c8" stroke-width="1" stroke-linejoin="miter"/>
<polygon points="556.32,337.07 561.12,345.37 551.52,345.37" fill="#fff" stroke="#3030c8" stroke-width="1" stroke-linejoin="miter"/>
<polygon points="570.08,335.87 574.88,344.17 565.28,344.17" fill="#fff" stroke="#3030c8" stroke-width="1" stroke-linejoin="miter"/>
<polygon points="583.84,333.57 588.64,341.87 579.04,341.87" fill="#fff" stroke="#3030c8" stroke-width="1" stroke-linejoin="miter"/>
<polygon points="597.6,337.77 602.4,346.07 592.8,346.07" fill="#fff" stroke="#3030c8" stroke-width="1" stroke-linejoin="miter"/>
<polygon points="611.36,347.07 616.16,355.37 606.56,355.37" fill="#fff" stroke="#3030c8" stroke-width="1" stroke-linejoin="miter"/>
<polygon points="625.12,345.97 629.92,354.27 620.32,354.27" fill="#fff" stroke="#3030c8" stroke-width="1" stroke-linejoin="miter"/>
<polygon points="638.88,349.47 643.68,357.77 634.08,357.77" fill="#fff" stroke="#3030c8" stroke-width="1" stroke-linejoin="miter"/>
<polygon points="652.64,350.17 657.44,358.47 647.84,358.47" fill="#fff" stroke="#3030c8" stroke-width="1" stroke-linejoin="miter"/>
<polygon points="666.4,350.17 671.2,358.47 661.6,358.47" fill="#fff" stroke="#3030c8" stroke-width="1" stroke-linejoin="miter"/>
</g>
<polyline points="606.1,283.1 635.9,283.1" fill="none" stroke="#000000" stroke-width="2.0" stroke-linejoin="round" stroke-linecap="butt"/>
<rect x="617.2" y="279.3" width="7.6" height="7.6" fill="#fff" stroke="#333333" stroke-width="1"/>
<text transform="translate(638.8 287.5) scale(0.9 1)" font-size="11.5" text-anchor="start" font-weight="normal">AC</text>
<polyline points="606.1,299.2 635.9,299.2" fill="none" stroke="#dc2420" stroke-width="2.0" stroke-linejoin="round" stroke-linecap="butt"/>
<circle cx="621" cy="299.2" r="4.4" fill="#fff" stroke="#d83030" stroke-width="1"/>
<text transform="translate(638.8 303.6) scale(0.9 1)" font-size="11.5" text-anchor="start" font-weight="normal">AG</text>
<polyline points="606.1,315 635.9,315" fill="none" stroke="#1a1ab8" stroke-width="2.0" stroke-linejoin="round" stroke-linecap="butt"/>
<polygon points="621,309.37 626.15,317.82 615.85,317.82" fill="#fff" stroke="#3030c8" stroke-width="1" stroke-linejoin="miter"/>
<text transform="translate(638.8 319.4) scale(0.9 1)" font-size="11.5" text-anchor="start" font-weight="normal">APDC</text>
<text transform="translate(340.6 269.8)" font-size="20" text-anchor="start" font-weight="bold">(d)</text>
</svg>
</body></html>
